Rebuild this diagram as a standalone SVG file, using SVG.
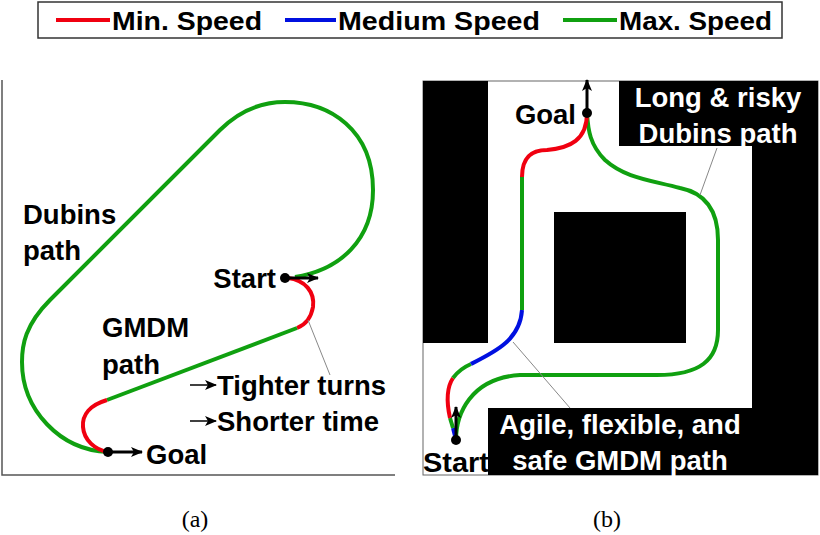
<svg xmlns="http://www.w3.org/2000/svg" width="820" height="535" viewBox="0 0 820 535">
<style>
.t{font-family:"Liberation Sans",Arial,sans-serif;font-weight:bold;font-size:27.5px;fill:#000}
.w{fill:#fff}
.lg{font-family:"Liberation Sans",Arial,sans-serif;font-weight:bold;font-size:26px}
.p{fill:none;stroke-width:4;stroke-linecap:butt}
.r{stroke:#f00010}.b{stroke:#0010e0}.g{stroke:#10a010}
.lead{stroke:#888;stroke-width:1;fill:none}
.cap{font-family:"Liberation Serif",serif;font-size:24px}
</style>
<defs>
<marker id="ah" markerWidth="12" markerHeight="10" refX="11" refY="5" orient="auto" markerUnits="userSpaceOnUse"><path d="M0,0 L12,5 L0,10 L3,5 Z" fill="#000"/></marker>
</defs>
<g id="legend">
<rect x="38" y="2" width="744" height="36" fill="#fff" stroke="#333" stroke-width="1.5"/>
<line x1="56" y1="20" x2="110" y2="20" class="p r"/>
<text x="112" y="30" class="lg" textLength="150" lengthAdjust="spacingAndGlyphs">Min. Speed</text>
<line x1="285" y1="20" x2="336" y2="20" class="p b"/>
<text x="338" y="30" class="lg" textLength="202" lengthAdjust="spacingAndGlyphs">Medium Speed</text>
<line x1="563" y1="20" x2="617" y2="20" class="p g"/>
<text x="619" y="30" class="lg" textLength="153" lengthAdjust="spacingAndGlyphs">Max. Speed</text>
</g>
<g id="panel-a">
<path d="M2,80 V475 H395" fill="none" stroke="#555" stroke-width="1.5"/>
<path class="p g" d="M295,277 C340,270 373,240 373,190 C373,130 330,102 285,102 C255,102 235,115 220,130 L50,300 C25,325 22,345 22,362 C22,410 60,450 108,452"/>
<path class="p r" d="M288,278 C305,280 315,292 313,307 C311,318 305,325 297,328"/>
<path class="p g" d="M297,328 L107,400"/>
<path class="p r" d="M107,400 C90,405 82,415 83,427 C84,440 95,450 108,452"/>
<line class="lead" x1="308" y1="320" x2="330" y2="375"/>
<g id="start-a"><circle cx="285" cy="278" r="5" fill="#000"/><line x1="285" y1="278" x2="318" y2="278" stroke="#000" stroke-width="3" marker-end="url(#ah)"/><text x="276" y="288" class="t" text-anchor="end">Start</text></g>
<g id="goal-a"><circle cx="108" cy="452" r="5" fill="#000"/><line x1="108" y1="452" x2="142" y2="452" stroke="#000" stroke-width="3" marker-end="url(#ah)"/><text x="146" y="464" class="t">Goal</text></g>
<text x="23" y="224" class="t">Dubins</text><text x="23" y="260" class="t">path</text>
<text x="102" y="337" class="t">GMDM</text><text x="102" y="374" class="t">path</text>
<line x1="190" y1="385" x2="216" y2="385" stroke="#000" stroke-width="1.5" marker-end="url(#ah)"/>
<text x="217" y="395" class="t">Tighter turns</text>
<line x1="190" y1="421" x2="216" y2="421" stroke="#000" stroke-width="1.5" marker-end="url(#ah)"/>
<text x="217" y="431" class="t">Shorter time</text>
</g>
<g id="panel-b">
<rect x="423" y="81" width="395" height="394" fill="#fff" stroke="#666" stroke-width="1"/>
<rect x="423" y="81" width="65" height="262" fill="#000"/>
<path d="M619,81 H818 V475 H488 V408 H752 V146 H619 Z" fill="#000"/>
<rect x="554" y="212" width="132" height="131" fill="#000"/>
<path class="p g" d="M456,440 C456,415 470,378 520,375 L657,375 C700,375 718,360 718,330 L718,240 C718,205 700,192 680,188 C650,180 625,178 605,160 C590,145 588,130 587,113"/>
<path class="p b" d="M456,440 L453,428"/>
<path class="p g" d="M453,428 L450,418"/>
<path class="p r" d="M450,418 C446,400 447,387 453,378"/>
<path class="p g" d="M453,378 C458,371 464,367 471,364"/>
<path class="p b" d="M471,364 C495,352 520,340 522,310"/>
<path class="p g" d="M522,310 L522,177"/>
<path class="p r" d="M522,177 C522,155 534,150 547,150 C570,148 587,140 587,113"/>
<line class="lead" x1="700" y1="195" x2="717" y2="148"/>
<line class="lead" x1="513" y1="342" x2="570" y2="408"/>
<g id="goal-b"><circle cx="587" cy="113" r="5" fill="#000"/><line x1="587" y1="113" x2="587" y2="80" stroke="#000" stroke-width="3" marker-end="url(#ah)"/><text x="576" y="124" class="t" text-anchor="end">Goal</text></g>
<g id="start-b"><circle cx="456" cy="440" r="5" fill="#000"/><line x1="456" y1="440" x2="456" y2="407" stroke="#000" stroke-width="3" marker-end="url(#ah)"/><text x="423" y="472" class="t" textLength="66" lengthAdjust="spacingAndGlyphs">Start</text></g>
<text x="718" y="107" class="t w" text-anchor="middle">Long &amp; risky</text>
<text x="718" y="143" class="t w" text-anchor="middle">Dubins path</text>
<text x="620" y="434" class="t w" text-anchor="middle">Agile, flexible, and</text>
<text x="620" y="470" class="t w" text-anchor="middle">safe GMDM path</text>
</g>
<text x="195" y="527" class="cap" text-anchor="middle">(a)</text>
<text x="607" y="527" class="cap" text-anchor="middle">(b)</text>
</svg>
